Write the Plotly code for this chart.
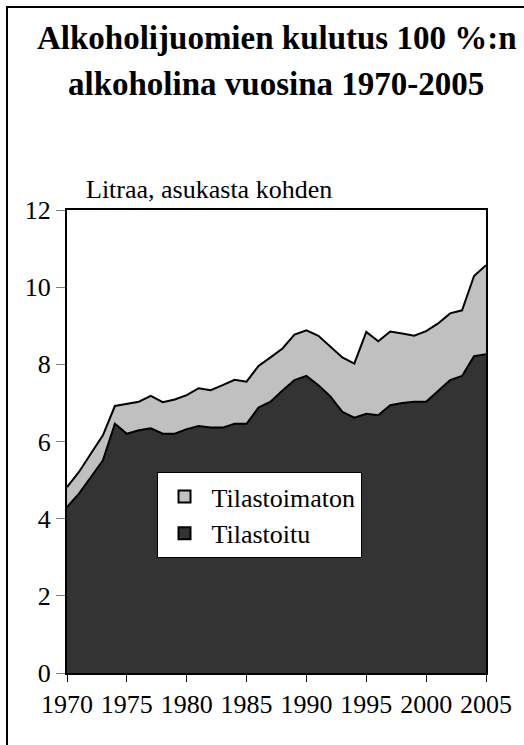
import plotly.graph_objects as go

years = list(range(1970, 2006))
tilastoitu = [4.30, 4.65, 5.08, 5.51, 6.46, 6.20, 6.29, 6.34, 6.20, 6.20,
              6.32, 6.40, 6.36, 6.36, 6.46, 6.46, 6.88, 7.03, 7.32, 7.59,
              7.70, 7.46, 7.17, 6.77, 6.62, 6.72, 6.68, 6.94, 7.00, 7.03,
              7.03, 7.31, 7.59, 7.70, 8.21, 8.26]
tilastoimaton = [0.52, 0.56, 0.61, 0.65, 0.46, 0.77, 0.74, 0.84, 0.82, 0.89,
                 0.88, 0.98, 0.97, 1.10, 1.14, 1.09, 1.08, 1.15, 1.09, 1.18,
                 1.18, 1.28, 1.28, 1.41, 1.40, 2.12, 1.92, 1.91, 1.80, 1.71,
                 1.83, 1.75, 1.73, 1.70, 2.08, 2.31]
x_ticks = [1970, 1975, 1980, 1985, 1990, 1995, 2000, 2005]
y_ticks = [0, 2, 4, 6, 8, 10, 12]

DARK = "#333333"
LIGHT = "#C0C0C0"
FONT = "Times New Roman, Liberation Serif, DejaVu Serif, serif"

fig = go.Figure()
fig.add_trace(go.Scatter(x=years, y=tilastoitu, stackgroup="a", mode="lines",
                         line=dict(color="black", width=2), fillcolor=DARK,
                         name="Tilastoitu", showlegend=False))
fig.add_trace(go.Scatter(x=years, y=tilastoimaton, stackgroup="a", mode="lines",
                         line=dict(color="black", width=2), fillcolor=LIGHT,
                         name="Tilastoimaton", showlegend=False))
# legend entries
fig.add_trace(go.Scatter(x=[None], y=[None], mode="markers", name="Tilastoimaton",
                         marker=dict(symbol="square", size=15, color=LIGHT,
                                     line=dict(color="black", width=1.5))))
fig.add_trace(go.Scatter(x=[None], y=[None], mode="markers", name="Tilastoitu",
                         marker=dict(symbol="square", size=15, color=DARK,
                                     line=dict(color="black", width=1.5))))

L, R, T, B = 67, 31, 210, 72
W, H = 524, 745
pw, ph = W - L - R, H - T - B

def px(xp):
    return (xp - L) / pw

def py(yp):
    return (H - B - yp) / ph

fig.update_layout(
    width=W, height=H,
    margin=dict(l=L, r=R, t=T, b=B),
    paper_bgcolor="white", plot_bgcolor="white",
    font=dict(family=FONT, size=26, color="black"),
    showlegend=True,
    legend=dict(x=px(158), y=py(472), xanchor="left", yanchor="top",
                bgcolor="white", bordercolor="black", borderwidth=1,
                font=dict(family=FONT, size=26), itemsizing="constant",
                itemwidth=44, traceorder="normal", tracegroupgap=0),
    xaxis=dict(range=[1970, 2005], tickvals=x_ticks, ticktext=[str(v) for v in x_ticks],
               showgrid=False, zeroline=False, showline=True, linecolor="black",
               linewidth=2, mirror=True, ticks="outside", ticklen=7, tickcolor="black",
               tickwidth=1, tickfont=dict(family=FONT, size=26), ticklabelstandoff=0),
    yaxis=dict(range=[0, 12], tickvals=y_ticks, showgrid=False, zeroline=False,
               showline=True, linecolor="black", linewidth=2, mirror=True,
               ticks="outside", ticklen=9, tickcolor="gray", tickwidth=1,
               tickfont=dict(family=FONT, size=26)),
    shapes=[dict(type="rect", xref="paper", yref="paper",
                 x0=px(6), x1=px(540), y0=py(7), y1=py(770),
                 line=dict(color="black", width=2), layer="above")],
    annotations=[
        dict(text="<b>Alkoholijuomien kulutus 100 %:n</b>", xref="paper", yref="paper",
             x=px(281), y=py(38), xanchor="center", yanchor="middle", showarrow=False,
             font=dict(family=FONT, size=33)),
        dict(text="<b>alkoholina vuosina 1970-2005</b>", xref="paper", yref="paper",
             x=px(279), y=py(84), xanchor="center", yanchor="middle", showarrow=False,
             font=dict(family=FONT, size=33)),
        dict(text="Litraa, asukasta kohden", xref="paper", yref="paper",
             x=px(84), y=py(189), xanchor="left", yanchor="middle", showarrow=False,
             font=dict(family=FONT, size=26)),
    ],
)

fig.write_html("out.html", config={"displayModeBar": False},
               post_script="document.body.style.margin='0';document.body.style.padding='0';")
